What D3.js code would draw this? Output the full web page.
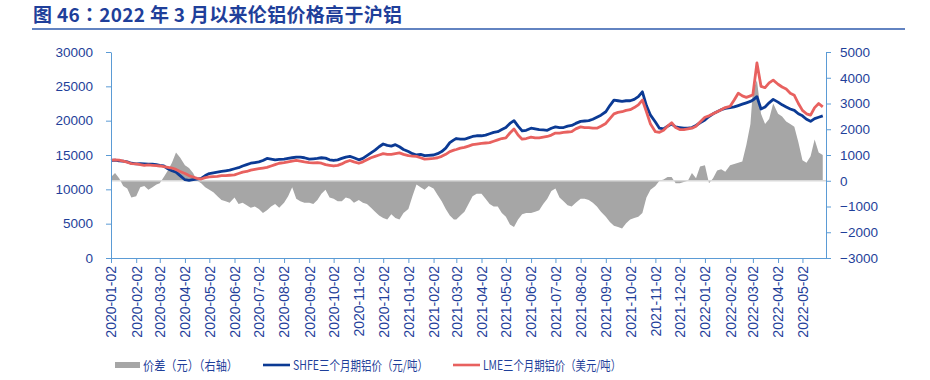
<!DOCTYPE html>
<html>
<head>
<meta charset="utf-8">
<script src="https://cdn.jsdelivr.net/npm/d3@7"></script>
<style>
  body { margin: 0; background: #fff; }
  svg text { font-family: "Liberation Sans", Arial, sans-serif; }
  svg text.cjk { font-family: "Noto Sans CJK SC", "Liberation Sans", sans-serif; }
</style>
</head>
<body>
<svg id="chart" width="930" height="380"></svg>
<script>
// six readings a month (on the 2nd, 7th, 12th, 17th, 22nd, 27th)
var months = ["2020-01","2020-02","2020-03","2020-04","2020-05","2020-06","2020-07","2020-08",
  "2020-09","2020-10","2020-11","2020-12","2021-01","2021-02","2021-03","2021-04","2021-05",
  "2021-06","2021-07","2021-08","2021-09","2021-10","2021-11","2021-12","2022-01","2022-02",
  "2022-03","2022-04","2022-05"];
var sampleDays = ["02","07","12","17","22","27"];

// SHFE three-month aluminium, yuan/t (left axis)
var shfe = [
  14200,14250,14150,14100,14000,13800,  13700,13750,13700,13650,13650,13600,
  13500,13400,13000,12700,12500,12000,  11400,11300,11400,11500,11600,12000,
  12300,12400,12500,12600,12700,12800,  13000,13150,13400,13600,13800,13900,
  14000,14200,14500,14400,14300,14350,  14400,14500,14600,14700,14700,14600,
  14400,14450,14500,14600,14550,14300,  14200,14300,14500,14700,14800,14600,
  14300,14500,14900,15300,15700,16200,  16600,16400,16300,16500,16200,15800,
  15500,15200,15000,15100,14900,14950,  15000,15200,15500,16000,16800,17200,
  17400,17300,17300,17500,17700,17800,  17800,17900,18100,18300,18400,18700,
  19000,19600,20000,19200,18500,18600,  18900,18800,18700,18650,18600,18900,
  19100,19000,19000,19200,19300,19600,  19900,19950,20000,20200,20500,20800,
  21300,22200,23000,22900,22800,22900,  22900,23100,23500,24200,22200,20800,
  19800,18900,18800,19200,19500,19100,  19000,18900,18900,19000,19300,19700,
  20100,20600,21000,21300,21600,21800,  21900,22000,22200,22400,22600,22800,
  23000,23500,21700,22000,22600,23100,  22700,22300,22000,21700,21500,21000,
  20700,20200,19900,20300,20500,20700];

// LME three-month aluminium, plotted against the left axis
var lme = [
  14250,14300,14250,14100,13950,13750,  13700,13600,13500,13550,13500,13450,
  13400,13300,13200,13100,12900,12600,  12300,12000,11800,11600,11500,11700,
  11800,11850,11900,12000,12000,12050,  12100,12300,12500,12600,12800,12900,
  13000,13100,13200,13400,13600,13800,  13900,14000,14100,14200,14100,14000,
  13900,13850,13900,13800,13600,13500,  13400,13500,13700,14000,14200,14000,
  13800,14000,14300,14600,14800,15000,  15200,15100,15100,15200,15300,15100,
  14900,14850,14800,14600,14400,14450,  14500,14600,14800,15100,15500,15700,
  15800,16000,16100,16300,16500,16600,  16700,16750,16800,17000,17200,17400,
  17500,18200,18800,17900,17300,17400,  17600,17500,17500,17600,17700,17900,
  18200,18200,18300,18350,18400,18800,  19100,19000,19000,18900,18900,19200,
  19600,20300,21000,21200,21300,21500,  21600,21900,22300,23000,21300,19500,
  18400,18300,18600,19200,19700,19000,  18700,18700,18800,18900,19200,19800,
  20500,20700,21000,21300,21600,21900,  22100,23000,24000,23600,23400,23600,
  23800,28400,25000,24800,25500,25900,  25300,24900,24600,24000,23700,22500,
  21500,21000,20800,21900,22500,22000];

// price spread, yuan (right axis)
var spread = [
  150,300,100,-200,-300,-650,           -600,-250,-200,-350,-250,-150,
  -100,150,400,700,1100,900,            600,500,300,0,-100,-250,
  -350,-450,-600,-750,-800,-850,        -650,-900,-850,-950,-1050,-1000,
  -1100,-1250,-1150,-1000,-900,-1050,   -850,-600,-250,-700,-800,-850,
  -850,-900,-750,-500,-350,-650,        -700,-800,-800,-650,-700,-850,
  -750,-850,-900,-1050,-1200,-1350,     -1450,-1500,-1300,-1450,-1500,-1250,
  -1100,-600,-150,-250,-350,-200,       -300,-550,-800,-1100,-1350,-1500,
  -1500,-1350,-1200,-900,-600,-500,     -500,-700,-900,-1000,-1000,-1250,
  -1400,-1700,-1800,-1500,-1300,-1250,  -1250,-1200,-1150,-900,-700,-400,
  -300,-650,-800,-950,-1000,-850,       -700,-700,-750,-850,-1000,-1200,
  -1400,-1600,-1750,-1800,-1850,-1650,  -1500,-1450,-1400,-1250,-650,-350,
  -200,0,50,150,150,-100,               -100,-50,0,300,100,550,
  600,-100,100,400,450,350,             600,650,700,750,1400,2200,
  3500,3900,2600,2200,2400,3000,        2600,2500,2300,2200,2100,1500,
  800,700,950,1600,1100,1000];

var monthTicks = ["2020-01-02","2020-02-02","2020-03-02","2020-04-02","2020-05-02","2020-06-02",
  "2020-07-02","2020-08-02","2020-09-02","2020-10-02","2020-11-02","2020-12-02",
  "2021-01-02","2021-02-02","2021-03-02","2021-04-02","2021-05-02","2021-06-02",
  "2021-07-02","2021-08-02","2021-09-02","2021-10-02","2021-11-02","2021-12-02",
  "2022-01-02","2022-02-02","2022-03-02","2022-04-02","2022-05-02"];
var leftTicks = [0, 5000, 10000, 15000, 20000, 25000, 30000];
var rightTicks = [-3000, -2000, -1000, 0, 1000, 2000, 3000, 4000, 5000];

var legendNames = ["价差（元）（右轴）", "SHFE三个月期铝价（元/吨）", "LME三个月期铝价（美元/吨）"];

var TEXT = "#1f3f9a", AXIS = "#5b9bd5";
var COL_SPREAD = "#a6a6a6", COL_SHFE = "#0b3a94", COL_LME = "#e8615f";

var parse = d3.timeParse("%Y-%m-%d");
var dates = [];
months.forEach(function (m) {
  sampleDays.forEach(function (d) { dates.push(m + "-" + d); });
});
var rows = dates.map(function (d, i) {
  return { date: parse(d), shfe: shfe[i], lme: lme[i], spread: spread[i] };
});

var svg = d3.select("#chart");
var plotLeft = 111, plotRight = 826, plotTop = 52, plotBottom = 258;

var x = d3.scaleTime().domain([parse("2020-01-02"), parse("2022-05-31")]).range([plotLeft, plotRight]);
var yL = d3.scaleLinear().domain([0, 30000]).range([plotBottom, plotTop]);
var yR = d3.scaleLinear().domain([-3000, 5000]).range([plotBottom, plotTop]);

// title + rule under it (colon taken from the TC face so it sits centred)
var t = svg.append("text").attr("class", "cjk")
  .attr("x", 33).attr("y", 22)
  .attr("font-size", 19).attr("font-weight", "bold").attr("fill", TEXT)
  .attr("textLength", 369).attr("lengthAdjust", "spacing");
t.append("tspan").text("图 46");
t.append("tspan").style("font-family", "'Noto Sans CJK TC'").text("：");
t.append("tspan").text("2022 年 3 月以来伦铝价格高于沪铝");
svg.append("line").attr("x1", 32).attr("x2", 905).attr("y1", 29).attr("y2", 29)
  .attr("stroke", "#2e5aac").attr("stroke-width", 1.5);

// spread area on the right axis
svg.append("path").datum(rows)
  .attr("fill", COL_SPREAD)
  .attr("d", d3.area()
    .x(function (d) { return x(d.date); })
    .y0(yR(0))
    .y1(function (d) { return yR(d.spread); }));

svg.append("line").attr("x1", plotLeft).attr("x2", plotRight)
  .attr("y1", yR(0)).attr("y2", yR(0))
  .attr("stroke", "#d9d9d9").attr("stroke-width", 1.5);

var line = function (key) {
  return d3.line()
    .x(function (d) { return x(d.date); })
    .y(function (d) { return yL(d[key]); });
};
svg.append("path").datum(rows).attr("fill", "none")
  .attr("stroke", COL_SHFE).attr("stroke-width", 2.8).attr("stroke-linejoin", "round")
  .attr("d", line("shfe"));
svg.append("path").datum(rows).attr("fill", "none")
  .attr("stroke", COL_LME).attr("stroke-width", 2.8).attr("stroke-linejoin", "round")
  .attr("d", line("lme"));

// axes
function styleAxis(g) {
  g.selectAll(".domain, .tick line").attr("stroke", AXIS);
  g.selectAll(".tick text").attr("fill", TEXT).attr("font-size", 13.5);
}

svg.append("g").attr("transform", "translate(" + plotLeft + ",0)")
  .call(d3.axisLeft(yL).tickValues(leftTicks).tickFormat(d3.format("d"))
    .tickSize(5).tickPadding(13).tickSizeOuter(0))
  .call(styleAxis);

svg.append("g").attr("transform", "translate(" + plotRight + ",0)")
  .call(d3.axisRight(yR).tickValues(rightTicks).tickFormat(d3.format("d"))
    .tickSize(5).tickPadding(9).tickSizeOuter(0))
  .call(styleAxis);

var xAxis = svg.append("g").attr("transform", "translate(0," + plotBottom + ")")
  .call(d3.axisBottom(x).tickValues(monthTicks.map(parse)).tickSize(5).tickSizeOuter(0)
    .tickFormat(d3.timeFormat("%Y-%m-%d")))
  .call(styleAxis);
xAxis.selectAll(".tick text")
  .attr("font-size", 14)
  .attr("transform", "rotate(-90)")
  .attr("text-anchor", "end")
  .attr("x", -8).attr("y", 0).attr("dy", "0.35em");

// legend
var lg = svg.append("g");
lg.append("rect").attr("x", 115).attr("y", 362).attr("width", 25).attr("height", 6).attr("fill", COL_SPREAD);
lg.append("line").attr("x1", 263).attr("x2", 290).attr("y1", 365).attr("y2", 365)
  .attr("stroke", COL_SHFE).attr("stroke-width", 2.6);
lg.append("line").attr("x1", 453).attr("x2", 480).attr("y1", 365).attr("y2", 365)
  .attr("stroke", COL_LME).attr("stroke-width", 2.6);
var legendX = [143, 293, 483], legendW = [95, 135, 138];
legendNames.forEach(function (name, i) {
  lg.append("text").attr("class", "cjk")
    .attr("x", legendX[i]).attr("y", 370)
    .attr("font-size", 13).attr("fill", TEXT)
    .attr("textLength", legendW[i]).attr("lengthAdjust", "spacingAndGlyphs")
    .text(name);
});
</script>
</body>
</html>
